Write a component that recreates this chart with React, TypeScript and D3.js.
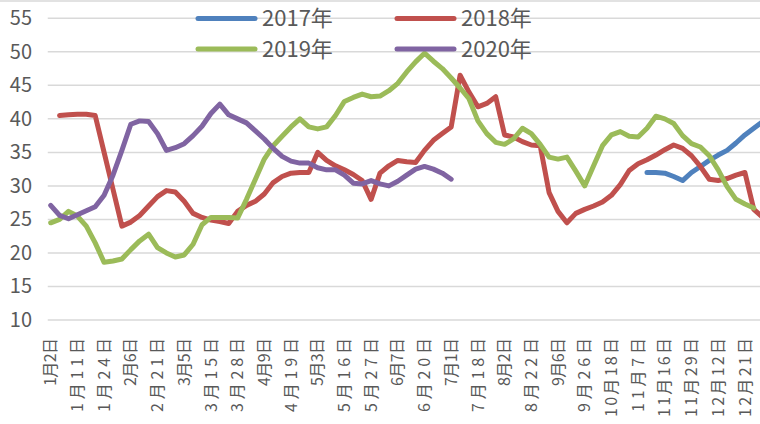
import React from "react";
import * as d3 from "d3";

const tickLabels = ["1月2日","1月11日","1月24日","2月6日","2月21日","3月5日","3月15日","3月28日","4月9日","4月19日","5月3日","5月16日","5月27日","6月7日","6月20日","7月1日","7月18日","8月2日","8月22日","9月6日","9月26日","10月18日","11月7日","11月16日","11月29日","12月12日","12月21日"];
const labelEvery = 3;
const yTicks = [10, 15, 20, 25, 30, 35, 40, 45, 50, 55];

const start2017 = 67;
const values2017 = [32.0, 32.0, 31.9, 31.4, 30.8, 32.0, 32.9, 33.8, 34.6, 35.3, 36.4, 37.6, 38.6, 39.6];

const start2018 = 1;
const values2018 = [40.5, 40.6, 40.7, 40.7, 40.5, 35.0, 29.5, 24.0, 24.6, 25.6, 27.0, 28.4, 29.3, 29.1, 27.7, 25.9, 25.3, 24.9, 24.7, 24.4, 26.2, 27.1, 27.7, 28.8, 30.5, 31.4, 31.9, 32.0, 32.0, 35.0, 33.8, 33.0, 32.4, 31.7, 30.8, 28.0, 31.9, 33.0, 33.8, 33.6, 33.5, 35.3, 36.8, 37.8, 38.8, 46.5, 44.0, 41.8, 42.3, 43.3, 37.6, 37.3, 36.6, 36.1, 36.0, 29.0, 26.2, 24.5, 25.9, 26.5, 27.0, 27.6, 28.6, 30.2, 32.3, 33.3, 33.9, 34.6, 35.4, 36.1, 35.6, 34.5, 32.9, 31.0, 30.8, 31.1, 31.6, 32.0, 26.5, 25.3];

const start2019 = 0;
const values2019 = [24.5, 25.0, 26.2, 25.5, 24.0, 21.5, 18.6, 18.8, 19.1, 20.5, 21.8, 22.8, 20.8, 20.0, 19.4, 19.7, 21.3, 24.2, 25.3, 25.3, 25.3, 25.2, 28.0, 31.0, 34.0, 36.0, 37.4, 38.8, 40.0, 38.8, 38.5, 38.8, 40.5, 42.6, 43.2, 43.7, 43.3, 43.4, 44.2, 45.3, 47.0, 48.5, 49.8, 48.6, 47.5, 46.1, 44.6, 43.0, 39.7, 37.8, 36.5, 36.2, 37.0, 38.6, 37.8, 36.2, 34.3, 34.0, 34.3, 32.2, 30.0, 33.0, 36.0, 37.6, 38.1, 37.4, 37.3, 38.6, 40.4, 40.0, 39.3, 37.5, 36.3, 35.8, 34.5, 32.4, 29.9, 28.0, 27.3, 26.7];

const start2020 = 0;
const values2020 = [27.1, 25.6, 25.1, 25.7, 26.3, 26.9, 28.6, 31.6, 35.3, 39.2, 39.7, 39.6, 37.8, 35.3, 35.7, 36.3, 37.5, 38.9, 40.8, 42.2, 40.6, 40.0, 39.4, 38.2, 37.0, 35.6, 34.4, 33.7, 33.4, 33.4, 32.7, 32.4, 32.4, 31.6, 30.4, 30.3, 30.8, 30.3, 30.0, 30.7, 31.6, 32.5, 32.9, 32.5, 31.9, 31.0];

const seriesNames = ["2017年", "2018年", "2019年", "2020年"];
const seriesColors = ["#4F81BD", "#C0504D", "#9BBB59", "#8064A2"];

const W = 760;
const H = 424;
const FONT = "'Noto Sans CJK SC', 'Noto Sans', sans-serif";

// rendered length of rotated category labels, by character count
const labelLengthByChars: Record<number, number> = { 4: 48, 5: 74, 6: 79 };

export default function App() {
  const x = d3.scaleLinear().domain([0, 78]).range([50.7, 744.9]);
  const y = d3.scaleLinear().domain([10, 55]).range([320, 18.3]);
  const plotLeft = x(-0.5) + 1.5;

  const series = [
    { start: start2017, values: values2017 },
    { start: start2018, values: values2018 },
    { start: start2019, values: values2019 },
    { start: start2020, values: values2020 },
  ];

  const paths = series.map((s) =>
    d3
      .line<[number, number]>()
      .x((d) => x(d[0]))
      .y((d) => y(d[1]))(s.values.map((v, i) => [s.start + i, v] as [number, number]))
  );

  const legendItems = [
    { name: seriesNames[0], color: seriesColors[0], lx: 198, ly: 18.5 },
    { name: seriesNames[1], color: seriesColors[1], lx: 397, ly: 18.5 },
    { name: seriesNames[2], color: seriesColors[2], lx: 198, ly: 49 },
    { name: seriesNames[3], color: seriesColors[3], lx: 397, ly: 49 },
  ];

  return (
    <svg width={W} height={H} style={{ display: "block", position: "absolute", left: 0, top: 0 }} fontFamily={FONT}>
      <rect x={0} y={0} width={W} height={H} fill="#ffffff" />
      <line x1={0} x2={W} y1={1} y2={1} stroke="#d9d9d9" strokeWidth={1.5} />
      {yTicks.map((t) => (
        <g key={t}>
          <line x1={plotLeft} x2={W} y1={y(t)} y2={y(t)} stroke="#d9d9d9" strokeWidth={1.5} />
          <text x={32} y={y(t)} dy="0.35em" textAnchor="end" fontSize={20} fill="#595959">
            {t}
          </text>
        </g>
      ))}
      {tickLabels.map((lab, k) => {
        const cx = x(k * labelEvery);
        const len = labelLengthByChars[lab.length];
        return (
          <text
            key={lab}
            transform={`translate(${cx},338) rotate(-90)`}
            dy="0.35em"
            textAnchor="end"
            fontSize={16}
            fill="#595959"
            textLength={len}
            lengthAdjust="spacing"
          >
            {lab}
          </text>
        );
      })}
      {paths.map((p, i) => (
        <path
          key={i}
          d={p || ""}
          fill="none"
          stroke={seriesColors[i]}
          strokeWidth={5}
          strokeLinejoin="round"
          strokeLinecap="round"
        />
      ))}
      {legendItems.map((it) => (
        <g key={it.name}>
          <line x1={it.lx} x2={it.lx + 57} y1={it.ly} y2={it.ly} stroke={it.color} strokeWidth={5} strokeLinecap="round" />
          <text x={it.lx + 64} y={it.ly} dy="0.36em" fontSize={22} fill="#595959">
            {it.name}
          </text>
        </g>
      ))}
    </svg>
  );
}
